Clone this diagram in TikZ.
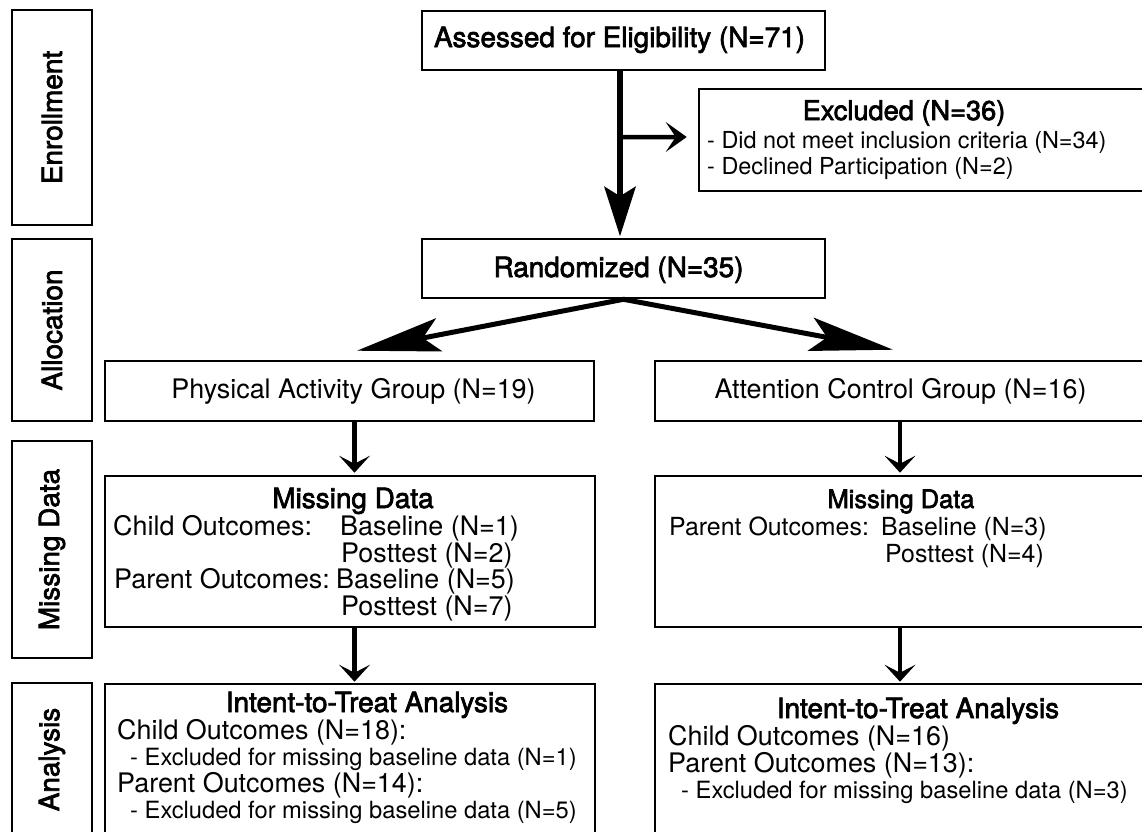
\documentclass[tikz,border=0pt]{standalone}
\usepackage{fontspec}
\setmainfont{TeX Gyre Heros}
\newfontfamily\medfont[FakeBold=2.5]{TeX Gyre Heros}
\usetikzlibrary{arrows.meta,positioning}

\begin{document}
\begin{tikzpicture}[x=1bp,y=-1bp,
  box/.style={draw,line width=2.6bp,inner sep=0pt},
  txt/.style={inner sep=0pt,font=\fontsize{27}{27}\selectfont},
  stxt/.style={inner sep=0pt,font=\fontsize{25}{25}\selectfont},
  hd/.style={inner sep=0pt,font=\medfont\fontsize{28}{28}\selectfont},
  sm/.style={inner sep=0pt,font=\fontsize{23.8}{24}\selectfont},
  side/.style={box,hd,minimum height=80bp,rotate=90},
  bigarr/.style={line width=5.5bp,-{Stealth[length=50bp,width=32bp,inset=10bp,line width=0pt]}},
  sidearr/.style={line width=4.5bp,-{Stealth[length=21bp,width=30bp,inset=10bp,line width=0pt]}},
  splitarr/.style={line width=5bp,{Stealth[length=84bp,width=34bp,inset=17bp,line width=0pt]}-{Stealth[length=84bp,width=34bp,inset=17bp,line width=0pt]}},
  downarr/.style={line width=4.5bp,-{Stealth[length=17bp,width=31bp,inset=8bp,line width=0pt]}}]
\useasboundingbox (0,0) rectangle (1142,832);

\node[side,minimum width=215bp] (enroll) at (52,117.5) {Enrollment};
\node[side,minimum width=182bp] (alloc) at (52,330) {Allocation};
\node[side,minimum width=217bp] (miss) at (52,549.5) {Missing Data};
\node[side,minimum width=153bp] (anal) at (52,759.5) {Analysis};

\node[box,minimum width=403bp,minimum height=59bp] (assess) at (623.5,40.5) {};
\node[hd,anchor=base] (assesstx) at (619.5,47) {Assessed for Eligibility (N=71)};
\node[box,minimum width=451bp,minimum height=102bp] (excl) at (924.5,140) {};
\node[hd,anchor=base,font=\medfont\fontsize{27.3}{28}\selectfont] (exclhd) at (904,120) {Excluded (N=36)};
\node[sm,anchor=base west,font=\fontsize{23.5}{24}\selectfont] (excl1) at (707,148) {- Did not meet inclusion criteria (N=34)};
\node[sm,anchor=base west,font=\fontsize{23.5}{24}\selectfont] (excl2) at (707,174) {- Declined Participation (N=2)};
\node[box,minimum width=403bp,minimum height=59bp] (rand) at (623.5,268.5) {};
\node[hd,anchor=base] (randtx) at (618.5,277) {Randomized (N=35)};

\node[box,minimum width=489bp,minimum height=60bp] (phys) at (349.5,391) {};
\node[txt,anchor=base] (phystx) at (353.5,398) {Physical Activity Group (N=19)};
\node[box,minimum width=495bp,minimum height=60bp] (attn) at (902.5,391) {};
\node[txt,anchor=base] (attntx) at (900.5,398) {Attention Control Group (N=16)};

\node[box,minimum width=490bp,minimum height=151bp] (physmiss) at (350,551.5) {};
\node[hd,anchor=base] (pmhd) at (353,508) {Missing Data};
\node[txt,anchor=base west] (pmc) at (113,535) {Child Outcomes:};
\node[txt,anchor=base west] (pmcb) at (340,535) {Baseline (N=1)};
\node[txt,anchor=base west] (pmcp) at (341,562) {Posttest (N=2)};
\node[txt,anchor=base west] (pmp) at (114,588) {Parent Outcomes:};
\node[txt,anchor=base west] (pmpb) at (336,588) {Baseline (N=5)};
\node[txt,anchor=base west] (pmpp) at (341,615) {Posttest (N=7)};

\node[box,minimum width=495bp,minimum height=151bp] (attnmiss) at (902.5,551.5) {};
\node[hd,anchor=base,font=\medfont\fontsize{25.5}{26}\selectfont] (amhd) at (901,508) {Missing Data};
\node[stxt,anchor=base west] (amp) at (669,535) {Parent Outcomes:};
\node[stxt,anchor=base west] (ampb) at (881,535) {Baseline (N=3)};
\node[stxt,anchor=base west] (ampp) at (885,562) {Posttest (N=4)};

\node[box,minimum width=490bp,minimum height=152bp] (physitt) at (350,760) {};
\node[hd,anchor=base] (pihd) at (367,712) {Intent-to-Treat Analysis};
\node[txt,anchor=base west] (pic) at (117,739) {Child Outcomes (N=18):};
\node[sm,anchor=base west] (pice) at (130,765) {- Excluded for missing baseline data (N=1)};
\node[txt,anchor=base west] (pip) at (117,792) {Parent Outcomes (N=14):};
\node[sm,anchor=base west] (pipe) at (130,818) {- Excluded for missing baseline data (N=5)};

\node[box,minimum width=495bp,minimum height=152bp] (attnitt) at (902.5,760) {};
\node[hd,anchor=base] (aihd) at (918,718) {Intent-to-Treat Analysis};
\node[txt,anchor=base west] (aic) at (668,745) {Child Outcomes (N=16)};
\node[txt,anchor=base west] (aip) at (668,772) {Parent Outcomes (N=13):};
\node[sm,anchor=base west] (aipe) at (681,798) {- Excluded for missing baseline data (N=3)};

\coordinate (fork) at (620,137);
\draw[bigarr] ([xshift=-3.5bp]assess.south) -- ([xshift=-3.5bp,yshift=1.5bp]rand.north);
\draw[sidearr] (fork) -- ([xshift=-11bp,yshift=3bp]excl.west);
\draw[splitarr] ([xshift=7.5bp,yshift=9bp]phys.north) -- (rand.south) -- ([xshift=-9.5bp,yshift=10bp]attn.north);
\draw[downarr] ([xshift=5bp]phys.south) -- ([xshift=4.5bp,yshift=2bp]physmiss.north);
\draw[downarr] ([xshift=-2.5bp]attn.south) -- ([xshift=-2.5bp,yshift=2bp]attnmiss.north);
\draw[downarr] ([xshift=4.5bp]physmiss.south) -- ([xshift=4.5bp,yshift=1bp]physitt.north);
\draw[downarr] ([xshift=-2.5bp]attnmiss.south) -- ([xshift=-2.5bp,yshift=1bp]attnitt.north);
\end{tikzpicture}
\end{document}
